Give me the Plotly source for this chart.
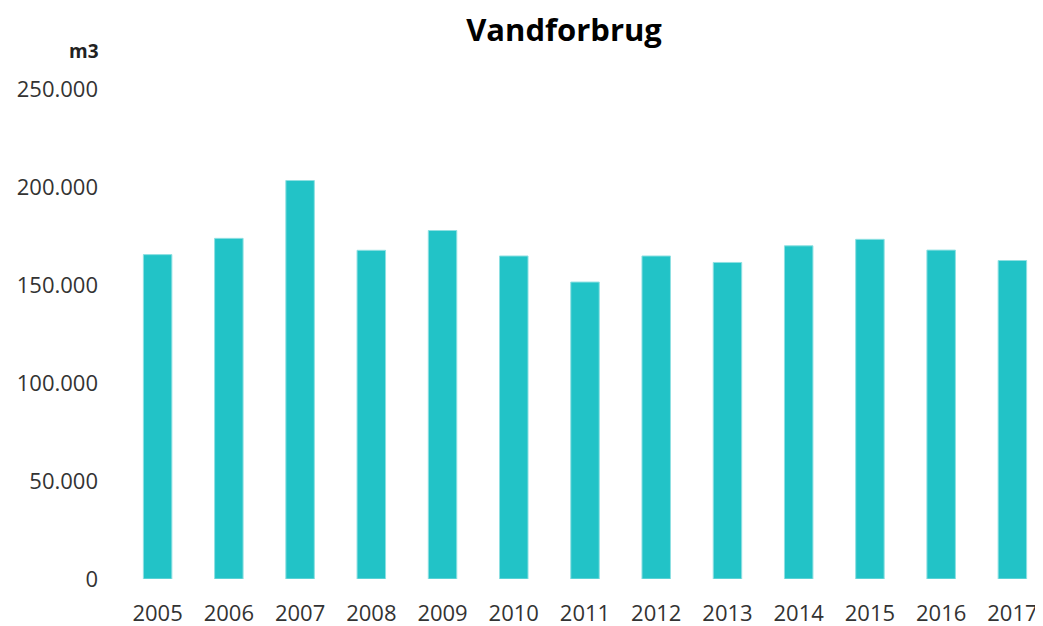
import plotly.graph_objects as go

years = ["2005", "2006", "2007", "2008", "2009", "2010", "2011", "2012", "2013", "2014", "2015", "2016", "2017"]
consumption = [165500, 173800, 203300, 167700, 177800, 164800, 151500, 164800, 161500, 170000, 173300, 167800, 162500]

# page is offset by the default 8px body margin; margins compensate
L, R, T, B = 114, 3, 81, 55
W, H = 1043, 626
pw, ph = W - L - R, H - T - B

fig = go.Figure(go.Bar(
    x=years, y=consumption,
    marker=dict(color="#22C3C7", line=dict(color="#8FE0E2", width=1)),
))

fig.update_layout(
    width=W, height=H,
    margin=dict(l=L, r=R, t=T, b=B),
    paper_bgcolor="white", plot_bgcolor="white",
    bargap=0.6,
    separators=",.",
    showlegend=False,
    font=dict(family="Open Sans, Liberation Sans, sans-serif", size=22, color="#333333"),
    title=dict(text="<b>Vandforbrug</b>", x=556 / W, xanchor="center", y=1 - 22 / H, yanchor="middle",
               font=dict(size=31, color="#000000", family="Open Sans, sans-serif")),
    annotations=[dict(text="<b>m3</b>", xref="paper", yref="paper",
                      x=(76 - L) / pw, y=(H - B - 43) / ph,
                      xanchor="center", yanchor="middle", showarrow=False,
                      font=dict(size=19, color="#222222"))],
)

fig.update_yaxes(range=[0, 250000], dtick=50000, tickformat=",d", showgrid=False,
                 zeroline=False, showline=False, ticks="", ticklabelstandoff=23,
                 tickfont=dict(size=22, color="#333333"))
fig.update_xaxes(showgrid=False, showline=False, ticks="", ticklabelstandoff=19,
                 tickfont=dict(size=22, color="#333333"))

fig.write_html("out.html")
